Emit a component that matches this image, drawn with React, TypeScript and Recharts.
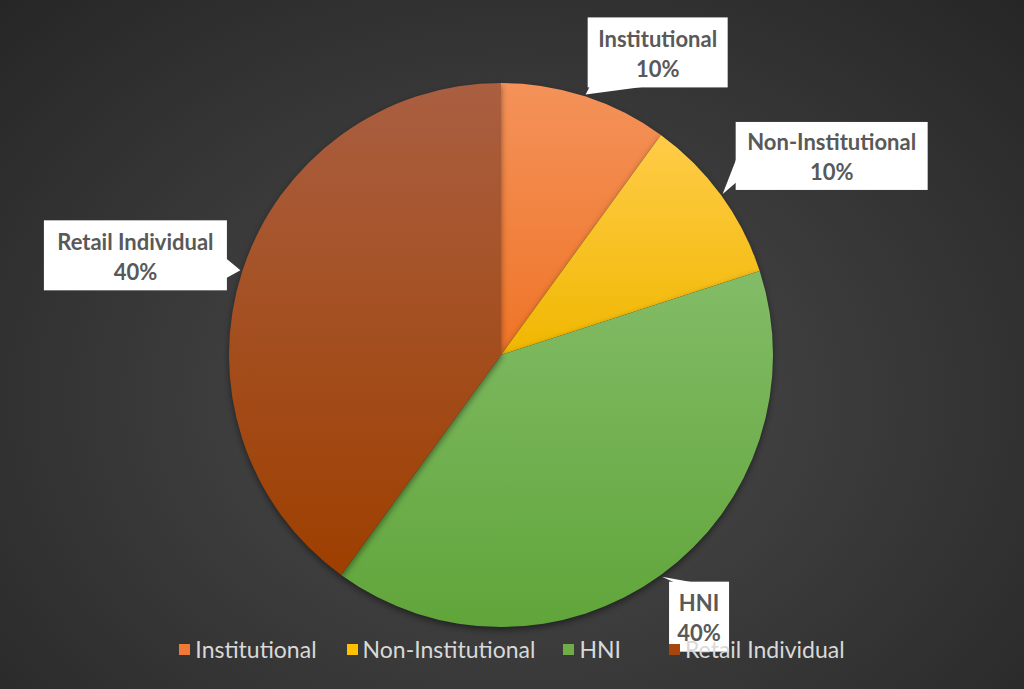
import React from 'react';
import { PieChart, Pie, Cell, Legend } from 'recharts';

// investor categories and their share of the issue
const categories = ['Institutional', 'Non-Institutional', 'HNI', 'Retail Individual'];
const shares = [10, 10, 40, 40];

// gradient colours per slice: lighter at the top, base colour at the bottom
const topColors = ['#f4925a', '#ffcc48', '#83bc67', '#aa5f41'];
const bottomColors = ['#ef7427', '#f0b700', '#60a53a', '#9e3f00'];
const legendColors = ['#f07a35', '#ffc000', '#70ad47', '#a6460d'];

const data = categories.map((name, i) => ({ name, value: shares[i] }));

// callout boxes: centre offset from the tip, size, and which side carries the pointer
const callouts = [
  { dx: 72, dy: -42, w: 140, h: 70, side: 'bottom', from: 2, to: 58 },
  { dx: 109, dy: -38, w: 192, h: 68, side: 'left', from: 36, to: 60 },
  { dx: 37, dy: 40, w: 60, h: 70, side: 'top', from: 6, to: 26 },
  { dx: -105, dy: -15, w: 183, h: 70, side: 'right', from: 38, to: 58 },
];

// space after each legend entry
const legendGaps = [30, 28, 48, 0];

const RAD = Math.PI / 180;
const FONT = "Lato, 'Open Sans', sans-serif";

function renderCallout(props: any) {
  const { cx, cy, midAngle, outerRadius, index, percent, name } = props;
  const r = outerRadius + 2;
  const tx = cx + r * Math.cos(-midAngle * RAD);
  const ty = cy + r * Math.sin(-midAngle * RAD);
  const c = callouts[index];
  const bx = tx + c.dx - c.w / 2;
  const by = ty + c.dy - c.h / 2;

  let pointer = '';
  if (c.side === 'bottom') {
    pointer = `M${bx + c.from},${by + c.h - 1} L${tx},${ty} L${bx + c.to},${by + c.h - 1} Z`;
  } else if (c.side === 'top') {
    pointer = `M${bx + c.from},${by + 1} L${tx},${ty} L${bx + c.to},${by + 1} Z`;
  } else if (c.side === 'left') {
    pointer = `M${bx + 1},${by + c.from} L${tx},${ty} L${bx + 1},${by + c.to} Z`;
  } else {
    pointer = `M${bx + c.w - 1},${by + c.from} L${tx},${ty} L${bx + c.w - 1},${by + c.to} Z`;
  }

  const mx = bx + c.w / 2;
  const my = by + c.h / 2;
  return (
    <g>
      <rect x={bx} y={by} width={c.w} height={c.h} fill="#ffffff" />
      <path d={pointer} fill="#ffffff" />
      <text
        x={mx}
        y={my - 14}
        textAnchor="middle"
        dominantBaseline="central"
        fill="#595959"
        fontSize={22}
        fontWeight="bold"
        fontFamily={FONT}
      >
        {name}
      </text>
      <text
        x={mx}
        y={my + 16}
        textAnchor="middle"
        dominantBaseline="central"
        fill="#595959"
        fontSize={22}
        fontWeight="bold"
        fontFamily={FONT}
      >
        {`${Math.round(percent * 100)}%`}
      </text>
    </g>
  );
}

function LegendContent() {
  return (
    <div
      style={{
        display: 'flex',
        justifyContent: 'center',
        alignItems: 'center',
        fontFamily: FONT,
        fontSize: 23,
        color: '#d9d9d9',
        lineHeight: '26px',
      }}
    >
      {categories.map((name, i) => (
        <div key={name} style={{ display: 'flex', alignItems: 'center', marginRight: legendGaps[i] }}>
          <span
            style={{
              display: 'inline-block',
              width: 11,
              height: 11,
              background: legendColors[i],
              marginRight: 5,
            }}
          />
          <span>{name}</span>
        </div>
      ))}
    </div>
  );
}

export default function App() {
  return (
    <div
      style={{
        position: 'absolute',
        left: 0,
        top: 0,
        width: 1024,
        height: 689,
        background: 'radial-gradient(ellipse at 50% 58%, #4d4d4d 0%, #3b3b3b 45%, #262626 100%)',
      }}
    >
      <style>{`.recharts-pie-sector { filter: drop-shadow(0px 3px 3px rgba(0,0,0,0.45)); }`}</style>
      <PieChart width={1024} height={689}>
        <defs>
          {categories.map((_, i) => (
            <linearGradient key={i} id={`slice${i}`} x1="0" y1="0" x2="0" y2="1">
              <stop offset="0%" stopColor={topColors[i]} />
              <stop offset="100%" stopColor={bottomColors[i]} />
            </linearGradient>
          ))}
        </defs>
        <Pie
          data={data}
          dataKey="value"
          nameKey="name"
          cx={496}
          cy={350}
          outerRadius={272}
          startAngle={90}
          endAngle={-270}
          stroke="none"
          label={renderCallout}
          labelLine={false}
          isAnimationActive={false}
        >
          {data.map((d, i) => (
            <Cell key={d.name} fill={`url(#slice${i})`} />
          ))}
        </Pie>
        <Legend
          content={<LegendContent />}
          wrapperStyle={{ position: 'absolute', top: 636, left: 0, width: 1024 }}
        />
      </PieChart>
    </div>
  );
}
